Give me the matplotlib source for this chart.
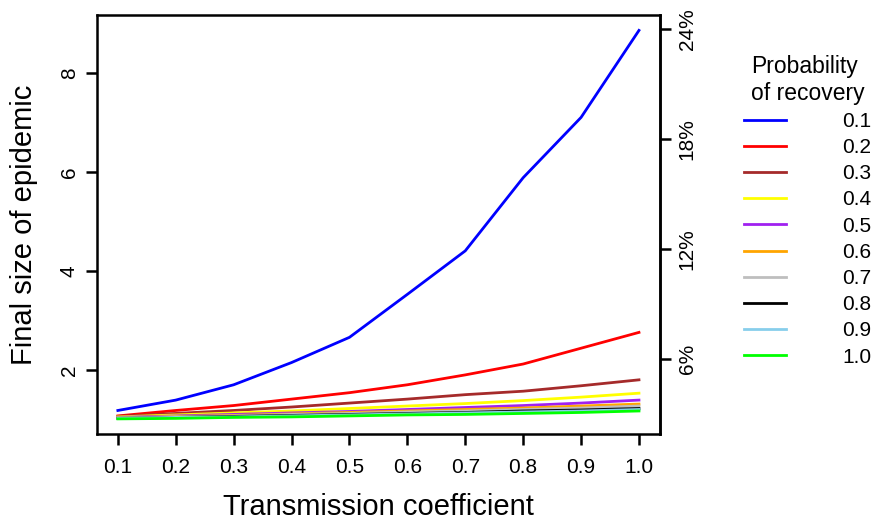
import matplotlib
matplotlib.use("Agg")
import matplotlib.pyplot as plt

plt.rcParams["font.family"] = ["Liberation Sans", "DejaVu Sans"]

transmission = [0.1, 0.2, 0.3, 0.4, 0.5, 0.6, 0.7, 0.8, 0.9, 1.0]
recovery_labels = ["0.1", "0.2", "0.3", "0.4", "0.5", "0.6", "0.7", "0.8", "0.9", "1.0"]
colors = ["#0000FF", "#FF0000", "#A52A2A", "#FFFF00", "#A020F0",
          "#FFA500", "#BEBEBE", "#000000", "#87CEEB", "#00FF00"]

size_01 = [1.18, 1.39, 1.70, 2.15, 2.66, 3.53, 4.41, 5.89, 7.11, 8.87]
size_02 = [1.07, 1.18, 1.28, 1.41, 1.54, 1.70, 1.90, 2.12, 2.44, 2.76]
size_03 = [1.06, 1.12, 1.18, 1.25, 1.33, 1.41, 1.50, 1.57, 1.68, 1.80]
size_04 = [1.05, 1.09, 1.13, 1.17, 1.22, 1.27, 1.32, 1.38, 1.45, 1.53]
size_05 = [1.04, 1.07, 1.10, 1.13, 1.16, 1.20, 1.24, 1.28, 1.33, 1.39]
size_06 = [1.03, 1.06, 1.08, 1.11, 1.14, 1.17, 1.20, 1.23, 1.27, 1.31]
size_07 = [1.03, 1.05, 1.07, 1.10, 1.12, 1.15, 1.17, 1.20, 1.23, 1.27]
size_08 = [1.02, 1.04, 1.06, 1.08, 1.10, 1.12, 1.14, 1.17, 1.19, 1.22]
size_09 = [1.02, 1.04, 1.05, 1.07, 1.09, 1.11, 1.13, 1.15, 1.17, 1.20]
size_10 = [1.01, 1.02, 1.04, 1.05, 1.07, 1.09, 1.10, 1.12, 1.14, 1.17]
all_sizes = [size_01, size_02, size_03, size_04, size_05,
             size_06, size_07, size_08, size_09, size_10]

# right axis shows the same values as a percentage
pct_factor = 2.695

fig = plt.figure(figsize=(8.78, 5.2), dpi=100)
ax = fig.add_axes([0.1105, 0.165, 0.641, 0.806])

for vals, col, lab in zip(all_sizes, colors, recovery_labels):
    ax.plot(transmission, vals, color=col, lw=2.0, label=lab)

ax.set_xlim(0.064, 1.036)
ax.set_ylim(0.70, 9.18)
ax.set_xticks(transmission)
ax.set_xticklabels(recovery_labels)
ax.set_yticks([2, 4, 6, 8])
for lbl in ax.get_yticklabels():
    lbl.set_rotation(90)
    lbl.set_va("center")
ax.tick_params(labelsize=15, length=8, width=1.8, direction="out")
ax.tick_params(axis="x", pad=9)
ax.tick_params(axis="y", pad=5)
for sp in ax.spines.values():
    sp.set_linewidth(1.8)

ax.set_xlabel("Transmission coefficient", fontsize=21)
ax.set_ylabel("Final size of epidemic", fontsize=21)
ax.xaxis.set_label_coords(0.5, -0.141)
ax.yaxis.set_label_coords(-0.105, 0.5)

sec = ax.secondary_yaxis("right", functions=(lambda y: y * pct_factor, lambda p: p / pct_factor))
sec.set_yticks([6, 12, 18, 24])
sec.set_yticklabels(["6%", "12%", "18%", "24%"])
for lbl in sec.get_yticklabels():
    lbl.set_rotation(90)
    lbl.set_va("center")
sec.tick_params(labelsize=15, length=8, width=1.8, pad=5, direction="out")
sec.spines["right"].set_linewidth(1.8)

leg = ax.legend(loc="upper left", bbox_to_anchor=(0.8475, 0.894), bbox_transform=fig.transFigure,
                title="Probability\nof recovery", frameon=False, fontsize=15, title_fontsize=16.5,
                handlelength=2.0, handletextpad=2.7, labelspacing=0.345, borderpad=0, borderaxespad=0)

fig.savefig("out.png", dpi=100)
